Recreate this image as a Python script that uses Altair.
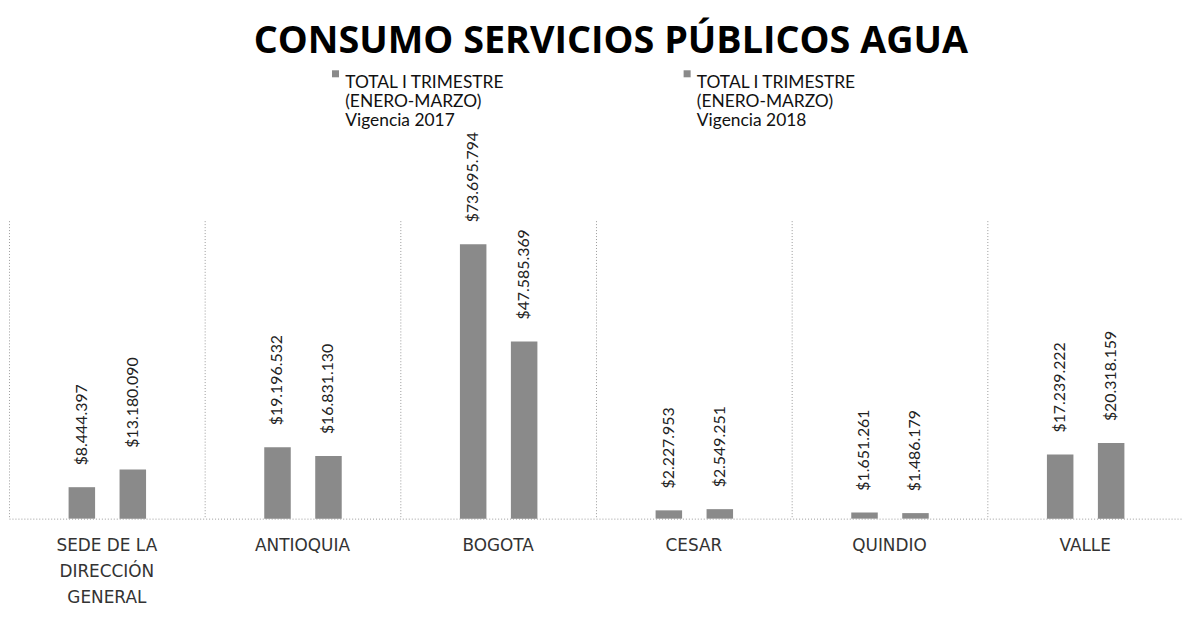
import altair as alt
import pandas as pd

categories = ["SEDE DE LA DIRECCIÓN GENERAL", "ANTIOQUIA", "BOGOTA", "CESAR", "QUINDIO", "VALLE"]
series = ["TOTAL I TRIMESTRE (ENERO-MARZO) Vigencia 2017",
          "TOTAL I TRIMESTRE (ENERO-MARZO) Vigencia 2018"]
v2017 = [8444397, 19196532, 73695794, 2227953, 1651261, 17239222]
v2018 = [13180090, 16831130, 47585369, 2549251, 1486179, 20318159]

rows = []
for c, a, b in zip(categories, v2017, v2018):
    for s, v in ((series[0], a), (series[1], b)):
        rows.append({"cat": c, "serie": s, "valor": v,
                     "etiqueta": "$" + f"{v:,}".replace(",", ".")})
df = pd.DataFrame(rows)

gray = "#8a8a8a"

x = alt.X("cat:N", sort=categories, title=None,
          scale=alt.Scale(paddingInner=0, paddingOuter=0),
          axis=alt.Axis(labelAngle=0, ticks=False, bandPosition=0,
                        grid=True, gridColor="#9a9a9a", gridDash=[1, 2], gridWidth=1,
                        domainColor="#9a9a9a", domainDash=[1, 2], domainWidth=1,
                        labelFont="DejaVu Sans", labelFontSize=17, labelColor="#333333",
                        labelPadding=19, labelLineHeight=26, labelBaseline="top",
                        labelExpr="datum.value == 'SEDE DE LA DIRECCIÓN GENERAL' ? ['SEDE DE LA', 'DIRECCIÓN', 'GENERAL'] : datum.label"))
xo = alt.XOffset("serie:N", sort=series,
                 scale=alt.Scale(range=[60, 138], paddingInner=0.48, paddingOuter=0))
y = alt.Y("valor:Q", scale=alt.Scale(domain=[0, 80000000]), axis=None)

color = alt.Color("serie:N", sort=series,
                  scale=alt.Scale(domain=series, range=[gray, gray]),
                  legend=alt.Legend(title=None, orient="none", direction="horizontal",
                                    legendX=320, legendY=-157, columns=2, columnPadding=175,
                                    symbolType="square", symbolSize=50, symbolStrokeWidth=0,
                                    labelFont="Lato", labelFontSize=17.5, labelColor="#111",
                                    labelBaseline="top", labelOffset=1,
                                    labelLimit=400,
                                    labelExpr="['TOTAL I TRIMESTRE', '(ENERO-MARZO)', 'Vigencia ' + slice(datum.label, -4)]"))

bars = alt.Chart(df).mark_bar().encode(x=x, xOffset=xo, y=y, color=color)
labels = alt.Chart(df).mark_text(angle=270, align="left", baseline="middle", dx=22,
                                 font="Lato", fontSize=16, color="#222").encode(
    x=x, xOffset=xo, y=y, text="etiqueta:N")

chart = alt.layer(bars, labels).properties(
    width=1182, height=300,
    autosize=alt.AutoSizeParams(type="none"),
    padding={"left": 1, "top": 212, "right": 0, "bottom": 110},
    title=alt.TitleParams("CONSUMO SERVICIOS PÚBLICOS AGUA", font="Open Sans",
                          fontSize=38, fontWeight="bold", color="#000",
                          anchor="middle", dx=15, offset=4),
).configure_view(stroke=None)

chart.save("out.html", embed_options={"renderer": "svg", "actions": False})
